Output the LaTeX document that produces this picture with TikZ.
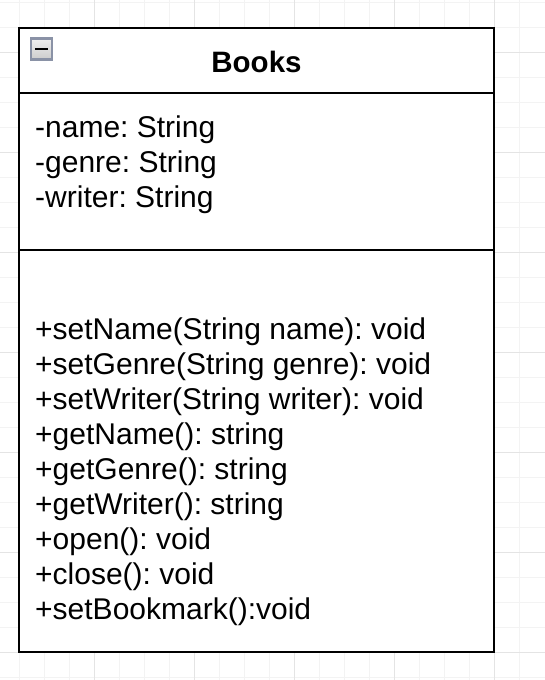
\documentclass[tikz,border=0pt]{standalone}
\usepackage{fontspec}
\setmainfont{Liberation Sans}
\frenchspacing
\definecolor{gridminor}{HTML}{F3F3F3}
\definecolor{gridmajor}{HTML}{E4E4E4}
\definecolor{iconborder}{HTML}{8A92A6}
\tikzset{
  umlpart/.style={draw=black, line width=2pt, rectangle, inner sep=0pt, outer sep=0pt, anchor=north west},
  member/.style={anchor=base west, inner sep=0pt, font=\fontsize{30}{35}\selectfont},
  titletext/.style={anchor=base, inner sep=0pt, font=\fontsize{29.5}{35}\selectfont\bfseries},
}
\begin{document}
\begin{tikzpicture}[x=1pt, y=-1pt]
\useasboundingbox (0,0) rectangle (545,680);
\fill[white] (0,0) rectangle (545,680);
% grid
\foreach \i in {0,...,21} {
  \draw[gridminor, line width=1pt] (19+25*\i-25,0) -- (19+25*\i-25,680);
}
\foreach \j in {0,...,27} {
  \draw[gridminor, line width=1pt] (0,2+25*\j) -- (545,2+25*\j);
}
\foreach \i in {0,...,5} {
  \draw[gridmajor, line width=1pt] (94+100*\i-100,0) -- (94+100*\i-100,680);
}
\foreach \j in {0,...,6} {
  \draw[gridmajor, line width=1pt] (0,52+100*\j) -- (545,52+100*\j);
}
% class box
\node[umlpart, fill=white, minimum width=475pt, minimum height=65pt] (head) at (19,27.5) {};
\node[umlpart, fill=white, minimum width=475pt, minimum height=157pt] (attrs) at (head.south west) {};
\node[umlpart, fill=white, minimum width=475pt, minimum height=402pt] (meths) at (attrs.south west) {};
% collapse icon
\node[draw=iconborder, line width=2.5pt, top color=gray!12, bottom color=gray!40, minimum width=21pt, minimum height=21pt, inner sep=0pt] (icon) at (41.3,49) {};
\draw[black, line width=2.5pt] ([xshift=-6.5pt]icon.center) -- ([xshift=6.5pt]icon.center);
% title
\node[titletext] (title) at (256.5,72.5) {Books};
% attributes
\node[member] (a1) at (35,137) {-name: String};
\node[member] (a2) at (35,172) {-genre: String};
\node[member] (a3) at (35,207) {-writer: String};
% methods
\node[member] (m1) at (35,339.5) {+setName(String name): void};
\node[member] (m2) at (35,374.5) {+setGenre(String genre): void};
\node[member] (m3) at (35,409.5) {+setWriter(String writer): void};
\node[member] (m4) at (35,444.5) {+getName(): string};
\node[member] (m5) at (35,479.5) {+getGenre(): string};
\node[member] (m6) at (35,514.5) {+getWriter(): string};
\node[member] (m7) at (35,549.5) {+open(): void};
\node[member] (m8) at (35,584.5) {+close(): void};
\node[member] (m9) at (35,619.5) {+setBookmark():void};
\end{tikzpicture}
\end{document}
